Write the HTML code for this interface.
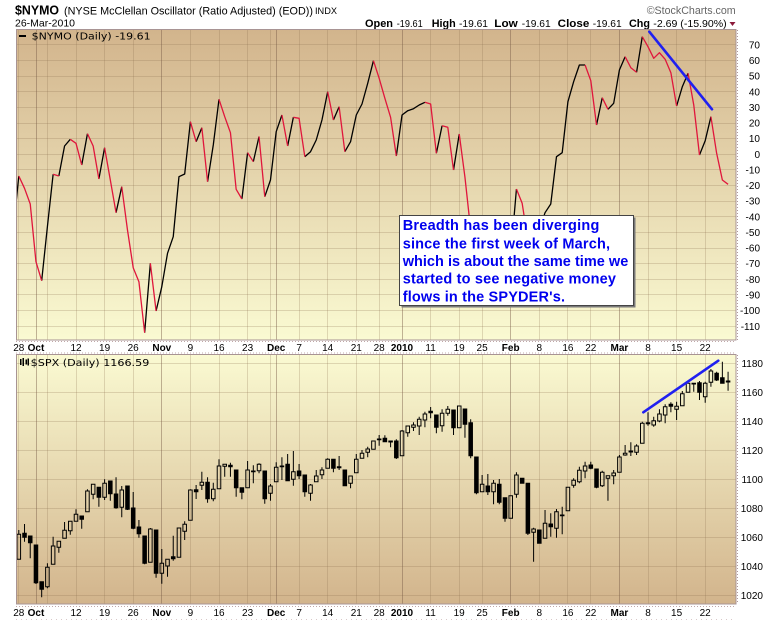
<!DOCTYPE html>
<html><head><meta charset="utf-8"><style>html,body{margin:0;padding:0;background:#fff;overflow:hidden}svg{display:block}</style></head><body>
<svg xmlns="http://www.w3.org/2000/svg" width="780" height="621" viewBox="0 0 780 621" font-family="'Liberation Sans', Arial, sans-serif">
<defs>
<linearGradient id="g1" x1="0" y1="0" x2="0" y2="1"><stop offset="0" stop-color="#d2b48c"/><stop offset="1" stop-color="#fafad2"/></linearGradient>
<linearGradient id="g2" x1="0" y1="0" x2="0" y2="1"><stop offset="0" stop-color="#fafad2"/><stop offset="1" stop-color="#d2b48c"/></linearGradient>
<clipPath id="c1"><rect x="16" y="29" width="720" height="311"/></clipPath>
<clipPath id="c2"><rect x="16" y="354" width="720" height="250"/></clipPath>
</defs>
<rect width="780" height="621" fill="#fff"/>

<!-- header -->
<text x="15" y="14.5" font-size="13" font-weight="bold" textLength="44" lengthAdjust="spacingAndGlyphs">$NYMO</text>
<text x="64" y="14.5" font-size="11" textLength="249" lengthAdjust="spacingAndGlyphs">(NYSE McClellan Oscillator (Ratio Adjusted) (EOD))</text>
<text x="315" y="13.8" font-size="9" textLength="22" lengthAdjust="spacingAndGlyphs">INDX</text>
<text x="15" y="26.5" font-size="10.5" textLength="60" lengthAdjust="spacingAndGlyphs">26-Mar-2010</text>
<text x="646.7" y="14" font-size="11" fill="#666" textLength="89" lengthAdjust="spacingAndGlyphs">©StockCharts.com</text>
<g font-size="11">
<text x="365" y="27" font-weight="bold" textLength="28" lengthAdjust="spacingAndGlyphs">Open</text>
<text x="396.7" y="27" font-size="10.5" textLength="26" lengthAdjust="spacingAndGlyphs">-19.61</text>
<text x="431.7" y="27" font-weight="bold" textLength="24" lengthAdjust="spacingAndGlyphs">High</text>
<text x="459" y="27" font-size="10.5" textLength="29" lengthAdjust="spacingAndGlyphs">-19.61</text>
<text x="494.3" y="27" font-weight="bold" textLength="23.4" lengthAdjust="spacingAndGlyphs">Low</text>
<text x="521.7" y="27" font-size="10.5" textLength="29" lengthAdjust="spacingAndGlyphs">-19.61</text>
<text x="557.7" y="27" font-weight="bold" textLength="31.6" lengthAdjust="spacingAndGlyphs">Close</text>
<text x="592.7" y="27" font-size="10.5" textLength="29" lengthAdjust="spacingAndGlyphs">-19.61</text>
<text x="629" y="27" font-weight="bold" textLength="21" lengthAdjust="spacingAndGlyphs">Chg</text>
<text x="653.3" y="27" font-size="10.5" textLength="73.4" lengthAdjust="spacingAndGlyphs">-2.69 (-15.90%)</text>
</g>
<polygon points="729.5,22 735.5,22 732.5,26" fill="#8b1a3a"/>

<!-- TOP PANEL -->
<rect x="16" y="29" width="720" height="311" fill="url(#g1)"/>
<g clip-path="url(#c1)">
<path d="M16 44.5H736M16 60.5H736M16 76.5H736M16 91.5H736M16 107.5H736M16 123.5H736M16 138.5H736M16 154.5H736M16 169.5H736M16 185.5H736M16 201.5H736M16 216.5H736M16 232.5H736M16 248.5H736M16 263.5H736M16 279.5H736M16 294.5H736M16 310.5H736M16 326.5H736" stroke="rgba(140,110,80,0.25)" stroke-width="1" fill="none"/>
<path d="M18.5 29V340M47.5 29V340M76.5 29V340M104.5 29V340M133.5 29V340M190.5 29V340M219.5 29V340M247.5 29V340M270.5 29V340M299.5 29V340M327.5 29V340M356.5 29V340M379.5 29V340M430.5 29V340M459.5 29V340M482.5 29V340M539.5 29V340M567.5 29V340M590.5 29V340M648.5 29V340M676.5 29V340M705.5 29V340" stroke="rgba(140,110,80,0.25)" stroke-width="1" fill="none"/>
<path d="M36.5 29V340M161.5 29V340M276.5 29V340M402.5 29V340M510.5 29V340M619.5 29V340" stroke="rgba(120,90,70,0.45)" stroke-width="1" fill="none"/>
<g transform="matrix(5.72 0 0 1 18.8 0)" fill="none" stroke-width="1.3" stroke-linejoin="round">
<path vector-effect="non-scaling-stroke" stroke="#000" d="M-1,232 L0,176 M4,280.7 L5,226.7 L6,174.3 M7,176 L8,146 L9,139.3 M11,165 L12,133.7 M14,179 L15,147.7 M17,212.7 L18,186.7 M22,332.7 L23,263.3 M24,311 L25,286.7 L26,253.3 L27,236.7 L28,176.7 L29,174 L30,121.7 M31,141.7 L32,127.7 M33,181.7 L34,145 L35,99.3 M39,199 L40,152.7 M41,161.7 L42,136.5 M43,196.7 L44,180 L45,131.7 L46,115 M47,146 L48,117.3 M50,156.7 L51,151.7 L52,140 L53,120 L54,91.7 M55,120 L56,106.7 M57,151.7 L58,141.7 L59,115 L60,104 L61,83.3 L62,60.7 M66,156 L67,115 L68,110.7 L69,108.7 L70,105 L71,102.3 M73,153.3 L74,125.7 M76,170 L77,134 M81,280 L82,270 M83,290 L84,270 L85,265 L86,255.7 L87,189 M90,250 L91,230 L92,212.7 L93,204 L94,156.7 L95,152.7 L96,101.7 L97,81.7 L98,65 L99,65 M101,125 L102,97.7 M103,109.3 L104,103.3 L105,70 L106,56.7 M108,72.3 L109,36.7 M115,106 L116,86.7 L117,73.3 M119,155 L120,140.7 L121,116.7"/>
<path vector-effect="non-scaling-stroke" stroke="#e0163c" d="M0,176 L1,188.3 L2,204 L3,261.7 L4,280.7 M6,174.3 L7,176 M9,139.3 L10,143.3 L11,165 M12,133.7 L13,146 L14,179 M15,147.7 L16,180 L17,212.7 M18,186.7 L19,230 L20,267.7 L21,281.7 L22,332.7 M23,263.3 L24,311 M30,121.7 L31,141.7 M32,127.7 L33,181.7 M35,99.3 L36,116.7 L37,132.7 L38,189.3 L39,199 M40,152.7 L41,161.7 M42,136.5 L43,196.7 M46,115 L47,146 M48,117.3 L49,118.3 L50,156.7 M54,91.7 L55,120 M56,106.7 L57,151.7 M62,60.7 L63,78.3 L64,98.3 L65,117.3 L66,156 M71,102.3 L72,104 L73,153.3 M74,125.7 L75,127.3 L76,170 M77,134 L78,177.3 L79,230 L80,255 L81,280 M82,270 L83,290 M87,189 L88,203.3 L89,240 L90,250 M99,65 L100,80.7 L101,125 M102,97.7 L103,109.3 M106,56.7 L107,67.7 L108,72.3 M109,36.7 L110,46.7 L111,58.3 L112,52.7 L113,59.3 L114,72.7 L115,106 M117,73.3 L118,105 L119,155 M121,116.7 L122,153.3 L123,180 L124,184.3"/>
</g>
<line x1="649.3" y1="31.7" x2="712" y2="109.3" stroke="#2020f0" stroke-width="2.6" stroke-linecap="round"/>
<!-- annotation box -->
<rect x="401.5" y="217.5" width="234" height="90" fill="#7a7a7a"/>
<rect x="399.5" y="215.5" width="234" height="90" fill="#fff" stroke="#444" stroke-width="1"/>
<g font-size="14.5" font-weight="bold" fill="#0000ee">
<text x="402.7" y="230" textLength="196.6" lengthAdjust="spacing">Breadth has been diverging</text>
<text x="402.7" y="248.3" textLength="207.3" lengthAdjust="spacing">since the first week of March,</text>
<text x="402.7" y="265.8" textLength="225.6" lengthAdjust="spacing">which is about the same time we</text>
<text x="402.7" y="283.4" textLength="213.3" lengthAdjust="spacing">started to see negative money</text>
<text x="402.7" y="301.7" textLength="162.3" lengthAdjust="spacing">flows in the SPYDER's.</text>
</g>
<rect x="19" y="35" width="7" height="2" fill="#000"/>
<text x="31.7" y="39.7" font-family="'DejaVu Sans', sans-serif" font-size="10" textLength="119" lengthAdjust="spacingAndGlyphs">$NYMO (Daily) -19.61</text>
</g>
<rect x="16.5" y="29.5" width="719.5" height="310.5" fill="none" stroke="#a89494" stroke-width="1"/>
<line x1="737.5" y1="30" x2="737.5" y2="340" stroke="#b09898" stroke-dasharray="1 2"/>
<g font-size="10" text-anchor="end">
<text x="760" y="48.4">70</text><text x="760" y="64">60</text><text x="760" y="79.6">50</text><text x="760" y="95.3">40</text><text x="760" y="110.9">30</text><text x="760" y="126.5">20</text><text x="760" y="142.2">10</text><text x="760" y="157.8">0</text><text x="760" y="173.4">-10</text><text x="760" y="189.1">-20</text><text x="760" y="204.7">-30</text><text x="760" y="220.3">-40</text><text x="760" y="236">-50</text><text x="760" y="251.6">-60</text><text x="760" y="267.2">-70</text><text x="760" y="282.9">-80</text><text x="760" y="298.5">-90</text><text x="760" y="314.1">-100</text><text x="760" y="329.8">-110</text>
</g>

<!-- x-axis strip -->
<line x1="16" y1="341.5" x2="736" y2="341.5" stroke="#c0a8a8" stroke-dasharray="1 2"/>
<line x1="16" y1="353" x2="736" y2="353" stroke="#c0a8a8" stroke-dasharray="1 2"/>
<g font-size="10" text-anchor="middle">
<text x="18.8" y="351">28</text><text x="36" y="351" font-weight="bold">Oct</text><text x="76" y="351">12</text><text x="104.6" y="351">19</text><text x="133.2" y="351">26</text><text x="161.8" y="351" font-weight="bold">Nov</text><text x="190.4" y="351">9</text><text x="219" y="351">16</text><text x="247.6" y="351">23</text><text x="276.2" y="351" font-weight="bold">Dec</text><text x="299.1" y="351">7</text><text x="327.7" y="351">14</text><text x="356.3" y="351">21</text><text x="379.2" y="351">28</text><text x="402" y="351" font-weight="bold">2010</text><text x="430.6" y="351">11</text><text x="459.2" y="351">19</text><text x="482.1" y="351">25</text><text x="510.7" y="351" font-weight="bold">Feb</text><text x="539.3" y="351">8</text><text x="567.9" y="351">16</text><text x="590.8" y="351">22</text><text x="619.4" y="351" font-weight="bold">Mar</text><text x="648" y="351">8</text><text x="676.6" y="351">15</text><text x="705.2" y="351">22</text>
</g>

<!-- BOTTOM PANEL -->
<rect x="16" y="354" width="720" height="250" fill="url(#g2)"/>
<g clip-path="url(#c2)">
<path d="M16 363.5H736M16 392.5H736M16 421.5H736M16 450.5H736M16 479.5H736M16 508.5H736M16 537.5H736M16 566.5H736M16 595.5H736" stroke="rgba(140,110,80,0.25)" stroke-width="1" fill="none"/>
<path d="M18.5 354V604M47.5 354V604M76.5 354V604M104.5 354V604M133.5 354V604M190.5 354V604M219.5 354V604M247.5 354V604M270.5 354V604M299.5 354V604M327.5 354V604M356.5 354V604M379.5 354V604M430.5 354V604M459.5 354V604M482.5 354V604M539.5 354V604M567.5 354V604M590.5 354V604M648.5 354V604M676.5 354V604M705.5 354V604" stroke="rgba(140,110,80,0.25)" stroke-width="1" fill="none"/>
<path d="M36.5 354V604M161.5 354V604M276.5 354V604M402.5 354V604M510.5 354V604M619.5 354V604" stroke="rgba(120,90,70,0.45)" stroke-width="1" fill="none"/>
<g transform="matrix(5.72 0 0 1 18.8 0)" stroke="#000" stroke-width="1">
<path vector-effect="non-scaling-stroke" fill="none" d="M0 530V534.3M1 524V533.3M1 537.3V541.7M2 542.7V558.3M3 582.7V584M4 589.3V597.3M5 563.3V567.3M5 586.7V588.3M6 536.7V546M7 547.3V552.7M8 522V530.3M9 530.7V534.7M10 509.3V514.3M11 519.3V528.7M12 489.3V491M13 494.3V499.3M14 497.3V506.7M15 479.3V483.3M15 497.3V500M16 493.7V500.7M17 477.3V494M17 507.7V508.7M18 486V490M18 507.3V517.3M19 509.3V510M20 492V508M20 528.3V529.3M21 520V527M21 533.7V537.7M22 563.3V564.3M23 528V529M24 573.3V577.7M25 549V563.3M25 573.3V583.7M26 566V576.7M27 535.7V556.7M27 558.7V560.7M29 521.3V524.3M29 531.3V540M30 489.3V490M31 485V489.7M31 491.7V499M32 471.7V482.3M32 485.3V490M33 477.3V482.3M33 498.7V502.7M34 482.7V489.3M34 498.7V501.3M35 459.3V466M36 466.3V476.7M37 462.7V465.3M37 466.7V476.7M38 487.7V496.7M39 492.3V499.3M40 461V470M41 465.3V471M41 471.7V483.3M42 463.3V464.3M42 470.7V473.3M43 498.7V503.7M44 484V486M44 493.3V500.7M45 462.3V467.3M46 457.3V466M46 466.7V480M47 454V464.3M48 451V471.7M48 479.3V485.7M49 464V471M49 475.7V479M50 491.7V496.7M51 484V485M51 493.3V500.7M52 470V476M53 467.3V470M53 474.7V479M54 458.3V459.3M55 468.3V472.3M56 456V466.7M56 467.7V470M58 483.3V488.3M59 454V459.3M60 450V453.3M61 446.7V449M61 452.3V457.3M63 435V439M63 439.7V445.7M64 435.3V438.3M65 442V447.3M66 439.3V441M66 457.7V459M67 430V431M68 432.7V436.7M69 422.3V425M69 427.3V431M70 416.7V419.3M70 426V435M71 411.7V414M71 420V427.3M72 407V411.3M72 412.7V418.3M73 427.3V433.3M74 409.3V413.3M74 425.7V431.7M75 406V409.3M75 413.3V415.7M76 427.7V435M78 424.3V437.7M79 419.3V422.7M79 455.7V458.3M80 492.7V494.3M81 475V484.3M82 474V486M82 491.7V495M83 480V483.3M83 491.7V504.3M84 479V484.3M84 502.3V504.3M85 518.3V521.7M87 472.3V475M87 494.3V497.7M89 533.3V535M90 527.7V529M90 532.3V561.7M92 510V523.3M93 513.3V524M93 526.7V536.7M94 509V511.7M94 528.3V537.7M95 506.7V515M95 515.7V534.3M97 478.3V480.3M97 485.3V487.7M98 466.7V470.3M98 481.7V483.3M99 461.7V466M99 471V478.3M100 461.7V465M100 468.3V469.3M101 487.3V488.3M102 470.7V472.3M102 485.7V487M103 478.3V500.7M104 470V473M104 475.7V484.3M105 455V457M106 445V453.3M106 455V455.7M107 442.3V451M107 452V456M108 444.3V446M108 452.3V455M109 421.7V423.3M110 412.3V422.7M110 423.7V425.7M111 416.7V420.7M111 425V426.7M112 409.3V414M112 421V422.3M113 404.3V406.7M113 415V423.3M114 402.3V404.3M114 406.3V412.3M115 401.7V406.3M115 409.3V420M116 391V393.7M118 384V391.7M119 381V382.7M119 392.3V400M120 381.7V383.3M120 396.7V402.7M121 369V371M121 382.3V386.7M122 371.7V373.3M122 380V381M123 361.7V377.7M124 371.7V381M124 382V390.7"/>
<path vector-effect="non-scaling-stroke" fill="none" d="M-0.31 534.3h0.62V559.3h-0.62zM4.69 567.3h0.62V586.7h-0.62zM5.69 546h0.62V564.3h-0.62zM6.69 541.3h0.62V547.3h-0.62zM7.69 530.3h0.62V538.3h-0.62zM8.69 521.3h0.62V530.7h-0.62zM9.69 514.3h0.62V521.3h-0.62zM11.69 491h0.62V511.7h-0.62zM12.69 484.3h0.62V494.3h-0.62zM14.69 483.3h0.62V497.3h-0.62zM17.69 490h0.62V507.3h-0.62zM22.69 529h0.62V562.3h-0.62zM24.69 563.3h0.62V573.3h-0.62zM25.69 559.3h0.62V566h-0.62zM27.69 528h0.62V557.3h-0.62zM28.69 524.3h0.62V531.3h-0.62zM29.69 490h0.62V520.3h-0.62zM31.69 482.3h0.62V485.3h-0.62zM33.69 489.3h0.62V498.7h-0.62zM34.69 466h0.62V488.7h-0.62zM35.69 464.3h0.62V466.3h-0.62zM39.69 470h0.62V487.7h-0.62zM41.69 464.3h0.62V470.7h-0.62zM43.69 486h0.62V493.3h-0.62zM44.69 467.3h0.62V481.7h-0.62zM47.69 471.7h0.62V479.3h-0.62zM50.69 485h0.62V493.3h-0.62zM51.69 476h0.62V481.7h-0.62zM52.69 470h0.62V474.7h-0.62zM53.69 459.3h0.62V468.3h-0.62zM57.69 476h0.62V483.3h-0.62zM58.69 459.3h0.62V472.7h-0.62zM59.69 453.3h0.62V458.3h-0.62zM60.69 449h0.62V452.3h-0.62zM61.69 441h0.62V449.3h-0.62zM66.69 431h0.62V455.7h-0.62zM67.69 426h0.62V432.7h-0.62zM68.69 425h0.62V427.3h-0.62zM69.69 419.3h0.62V426h-0.62zM70.69 414h0.62V420h-0.62zM73.69 413.3h0.62V425.7h-0.62zM74.69 409.3h0.62V413.3h-0.62zM76.69 406h0.62V427.7h-0.62zM80.69 484.3h0.62V491.7h-0.62zM82.69 483.3h0.62V491.7h-0.62zM85.69 495.7h0.62V518.3h-0.62zM86.69 475h0.62V494.3h-0.62zM89.69 529h0.62V532.3h-0.62zM91.69 523.3h0.62V538.3h-0.62zM93.69 511.7h0.62V528.3h-0.62zM95.69 487.3h0.62V510.7h-0.62zM96.69 480.3h0.62V485.3h-0.62zM97.69 470.3h0.62V481.7h-0.62zM98.69 466h0.62V471h-0.62zM101.69 472.3h0.62V485.7h-0.62zM102.69 475.7h0.62V478.3h-0.62zM103.69 473h0.62V475.7h-0.62zM104.69 457h0.62V472.3h-0.62zM105.69 453.3h0.62V455h-0.62zM107.69 446h0.62V452.3h-0.62zM108.69 423.3h0.62V443.3h-0.62zM110.69 420.7h0.62V425h-0.62zM111.69 414h0.62V421h-0.62zM112.69 406.7h0.62V415h-0.62zM114.69 406.3h0.62V409.3h-0.62zM115.69 393.7h0.62V405.7h-0.62zM116.69 383.3h0.62V392.3h-0.62zM117.69 383.3h0.62V384h-0.62zM119.69 383.3h0.62V396.7h-0.62zM120.69 371h0.62V382.3h-0.62z"/>
<path vector-effect="non-scaling-stroke" fill="#000" d="M0.69 533.3h0.62V537.3h-0.62zM1.69 536h0.62V542.7h-0.62zM2.69 545h0.62V582.7h-0.62zM3.69 581.7h0.62V589.3h-0.62zM10.69 516h0.62V519.3h-0.62zM13.69 487.3h0.62V497.3h-0.62zM15.69 481h0.62V493.7h-0.62zM16.69 494h0.62V507.7h-0.62zM18.69 486h0.62V509.3h-0.62zM19.69 508h0.62V528.3h-0.62zM20.69 527h0.62V533.7h-0.62zM21.69 536h0.62V563.3h-0.62zM23.69 530h0.62V573.3h-0.62zM26.69 556.7h0.62V558.7h-0.62zM30.69 489.7h0.62V491.7h-0.62zM32.69 482.3h0.62V498.7h-0.62zM36.69 465.3h0.62V466.7h-0.62zM37.69 470h0.62V487.7h-0.62zM38.69 487.7h0.62V492.3h-0.62zM40.69 471h0.62V471.7h-0.62zM42.69 471h0.62V498.7h-0.62zM45.69 466h0.62V466.7h-0.62zM46.69 464.3h0.62V480.7h-0.62zM48.69 471h0.62V475.7h-0.62zM49.69 475h0.62V491.7h-0.62zM54.69 459.3h0.62V468.3h-0.62zM55.69 466.7h0.62V467.7h-0.62zM56.69 470h0.62V485.7h-0.62zM62.69 439h0.62V439.7h-0.62zM63.69 438.3h0.62V441.7h-0.62zM64.69 441h0.62V442h-0.62zM65.69 441h0.62V457.7h-0.62zM71.69 411.3h0.62V412.7h-0.62zM72.69 415h0.62V427.3h-0.62zM75.69 410h0.62V427.7h-0.62zM77.69 409h0.62V424.3h-0.62zM78.69 422.7h0.62V455.7h-0.62zM79.69 457h0.62V492.7h-0.62zM81.69 486h0.62V491.7h-0.62zM83.69 484.3h0.62V502.3h-0.62zM84.69 497.7h0.62V518.3h-0.62zM87.69 478.3h0.62V483.3h-0.62zM88.69 483.3h0.62V533.3h-0.62zM90.69 530h0.62V543.3h-0.62zM92.69 524h0.62V526.7h-0.62zM94.69 515h0.62V515.7h-0.62zM99.69 465h0.62V468.3h-0.62zM100.69 469h0.62V487.3h-0.62zM106.69 451h0.62V452h-0.62zM109.69 422.7h0.62V423.7h-0.62zM113.69 404.3h0.62V406.3h-0.62zM118.69 382.7h0.62V392.3h-0.62zM121.69 373.3h0.62V380h-0.62zM122.69 377.7h0.62V383.3h-0.62zM123.69 381h0.62V382h-0.62z"/>
</g>
<line x1="643.3" y1="412.3" x2="718.3" y2="360.7" stroke="#2020f0" stroke-width="2.6" stroke-linecap="round"/>
<g fill="#000"><rect x="20" y="359" width="1.5" height="6"/><rect x="22.5" y="358" width="1.5" height="8"/><rect x="25.5" y="359.5" width="1.5" height="5"/><rect x="27.5" y="358.5" width="1.5" height="7"/></g>
<text x="30.7" y="366" font-family="'DejaVu Sans', sans-serif" font-size="10" textLength="118.6" lengthAdjust="spacingAndGlyphs">$SPX (Daily) 1166.59</text>
</g>
<rect x="16.5" y="354.5" width="719.5" height="249.5" fill="none" stroke="#a89494" stroke-width="1"/>
<line x1="737.5" y1="355" x2="737.5" y2="604" stroke="#b09898" stroke-dasharray="1 2"/>
<g font-size="10" text-anchor="end">
<text x="763" y="366.8">1180</text><text x="763" y="395.9">1160</text><text x="763" y="424.9">1140</text><text x="763" y="454">1120</text><text x="763" y="483">1100</text><text x="763" y="512.1">1080</text><text x="763" y="541.1">1060</text><text x="763" y="570.2">1040</text><text x="763" y="599.2">1020</text>
</g>
<line x1="16" y1="606.5" x2="736" y2="606.5" stroke="#c0a8a8" stroke-dasharray="1 2"/>
<line x1="16" y1="619.5" x2="736" y2="619.5" stroke="#d8c8c8" stroke-dasharray="1 4"/>
<g font-size="10" text-anchor="middle">
<text x="18.8" y="616">28</text><text x="36" y="616" font-weight="bold">Oct</text><text x="76" y="616">12</text><text x="104.6" y="616">19</text><text x="133.2" y="616">26</text><text x="161.8" y="616" font-weight="bold">Nov</text><text x="190.4" y="616">9</text><text x="219" y="616">16</text><text x="247.6" y="616">23</text><text x="276.2" y="616" font-weight="bold">Dec</text><text x="299.1" y="616">7</text><text x="327.7" y="616">14</text><text x="356.3" y="616">21</text><text x="379.2" y="616">28</text><text x="402" y="616" font-weight="bold">2010</text><text x="430.6" y="616">11</text><text x="459.2" y="616">19</text><text x="482.1" y="616">25</text><text x="510.7" y="616" font-weight="bold">Feb</text><text x="539.3" y="616">8</text><text x="567.9" y="616">16</text><text x="590.8" y="616">22</text><text x="619.4" y="616" font-weight="bold">Mar</text><text x="648" y="616">8</text><text x="676.6" y="616">15</text><text x="705.2" y="616">22</text>
</g>
</svg>
</body></html>
